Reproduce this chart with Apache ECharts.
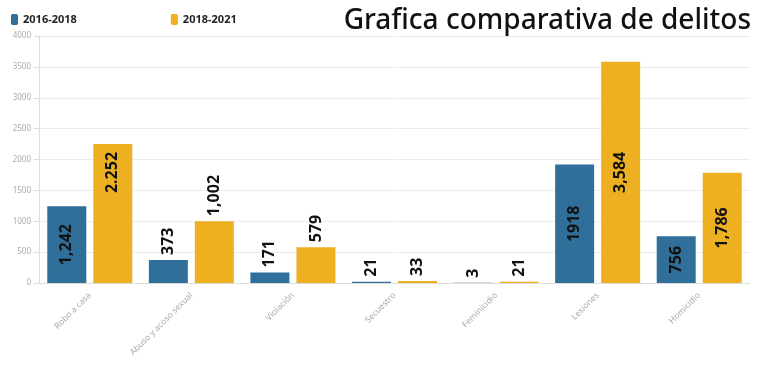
<!DOCTYPE html>
<html>
<head>
<meta charset="utf-8">
<script src="https://cdn.jsdelivr.net/npm/echarts@6/dist/echarts.min.js"></script>
<style>
  html, body { margin: 0; padding: 0; background: #fff; }
  #chart1 { width: 768px; height: 377px; }
</style>
</head>
<body>
<div id="chart1"></div>
<script>
var categories = ["Robo a casa", "Abuso y acoso sexual", "Violación", "Secuestro", "Feminicidio", "Lesiones", "Homicidio"];
var values2016 = [1242, 373, 171, 21, 3, 1918, 756];
var values2018 = [2252, 1002, 579, 33, 21, 3584, 1786];
var labels2016 = ["1,242", "373", "171", "21", "3", "1918", "756"];
var labels2018 = ["2.252", "1,002", "579", "33", "21", "3,584", "1,786"];
var seriesNames = ["2016-2018", "2018-2021"];
var yTicks = [0, 500, 1000, 1500, 2000, 2500, 3000, 3500, 4000];

// where each number sits: "in" = middle of bar, "top" = near top inside, "out" = above bar
var place2016 = ["in", "out", "out", "out", "out", "in", "in"];
var place2018 = ["top", "out", "out", "out", "out", "in", "in"];

var BLUE = "#2f6f99";
var YELLOW = "#ecb021";

var buildData = function (values, labels, place) {
    return values.map(function (v, i) {
        var lbl;
        if (place[i] == "out") {
            lbl = { position: "top", align: "left", verticalAlign: "middle", distance: 5 };
        } else if (place[i] == "top") {
            lbl = { position: "insideTop", align: "right", verticalAlign: "middle", distance: 8 };
        } else {
            lbl = { position: "inside", align: "center", verticalAlign: "middle" };
        }
        lbl.formatter = labels[i];
        return { value: v, label: lbl };
    });
};

var myChart = echarts.init(document.getElementById("chart1"));
var labelStyle = {
    show: true,
    rotate: 90,
    color: "#111",
    fontFamily: "Noto Sans",
    fontWeight: "bold",
    fontSize: 16
};

option = {
    animation: false,
    title: {
        text: "Grafica comparativa de delitos",
        right: 12,
        top: 2,
        textStyle: {
            fontFamily: "Noto Sans",
            fontWeight: 500,
            fontSize: 28,
            color: "#111"
        }
    },
    legend: {
        left: 6,
        top: 9,
        icon: "roundRect",
        itemWidth: 7,
        itemHeight: 11,
        itemGap: 94,
        textStyle: {
            fontFamily: "Noto Sans",
            fontWeight: "bold",
            fontSize: 11,
            color: "#222"
        },
        data: seriesNames
    },
    grid: {
        left: 39,
        right: 18,
        top: 36,
        bottom: 94
    },
    xAxis: {
        type: "category",
        data: categories,
        axisLine: { lineStyle: { color: "#dcdcdc" } },
        axisTick: { alignWithLabel: true, lineStyle: { color: "#dcdcdc" } },
        axisLabel: {
            rotate: 45,
            color: "#aaa",
            fontFamily: "Noto Sans",
            fontSize: 8.5,
            margin: 11,
            interval: 0
        }
    },
    yAxis: {
        type: "value",
        min: yTicks[0],
        max: yTicks[yTicks.length - 1],
        interval: yTicks[1] - yTicks[0],
        axisLine: { show: true, lineStyle: { color: "#dcdcdc" } },
        axisTick: { show: true, length: 5, lineStyle: { color: "#dcdcdc" } },
        splitLine: { lineStyle: { color: "#ececec" } },
        axisLabel: {
            color: "#aaa",
            fontFamily: "Noto Sans",
            fontSize: 8,
            margin: 8,
            formatter: function (v) { return String(v); }
        }
    },
    series: [
        {
            name: seriesNames[0],
            type: "bar",
            barWidth: 39,
            barGap: "18%",
            itemStyle: { color: BLUE },
            label: labelStyle,
            data: buildData(values2016, labels2016, place2016)
        },
        {
            name: seriesNames[1],
            type: "bar",
            barWidth: 39,
            itemStyle: { color: YELLOW },
            label: labelStyle,
            data: buildData(values2018, labels2018, place2018)
        }
    ]
};
myChart.setOption(option);
</script>
</body>
</html>
